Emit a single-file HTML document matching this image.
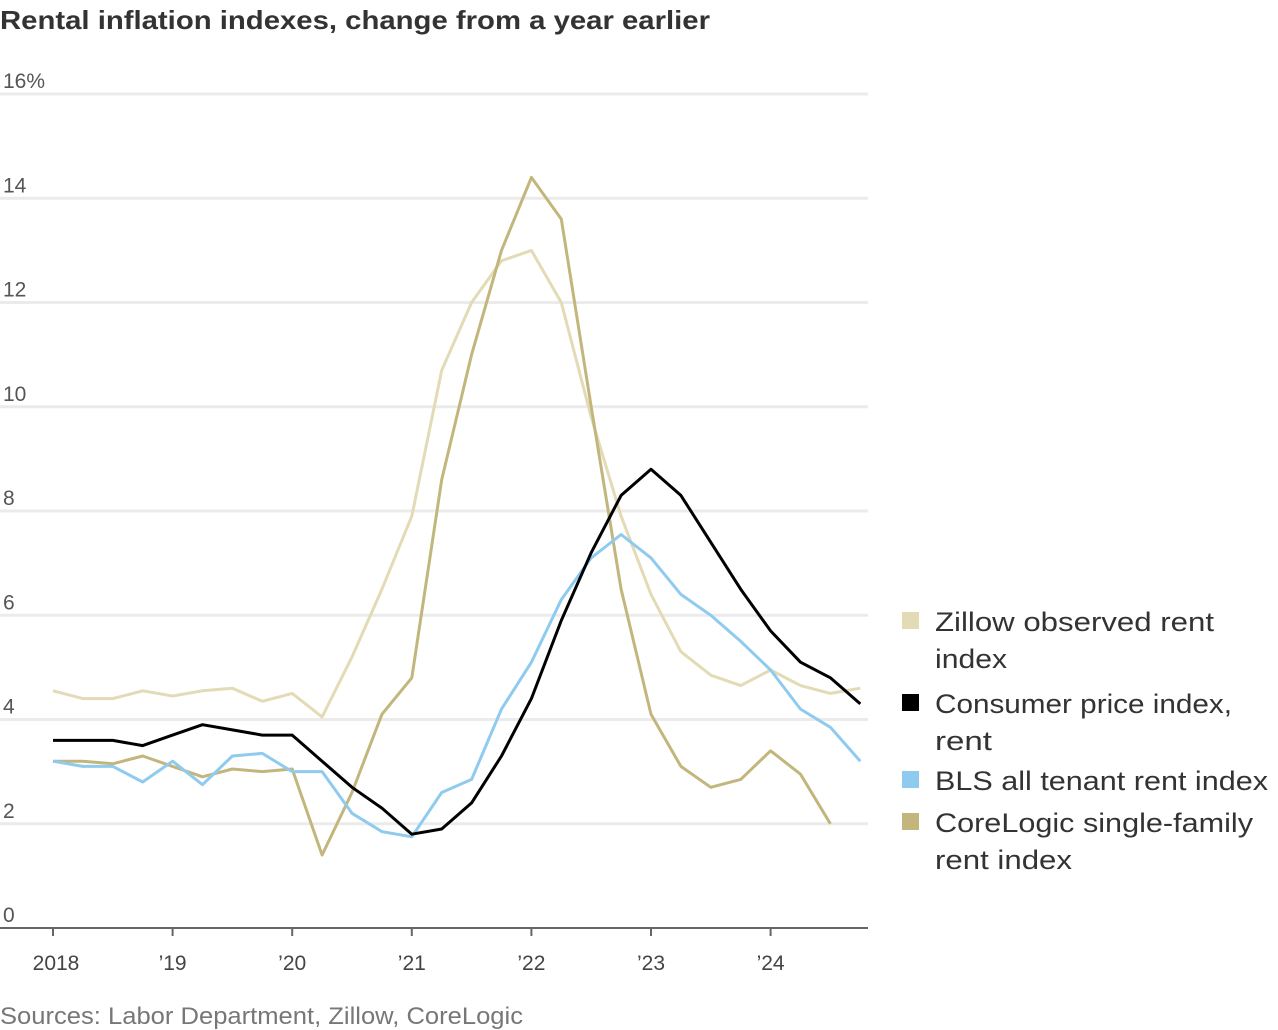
<!DOCTYPE html>
<html><head><meta charset="utf-8"><style>
body{margin:0;background:#fff;}
svg{display:block;font-family:"Liberation Sans",sans-serif;}
</style></head><body>
<svg width="1278" height="1030" id="chart">
<text x="0" y="29" font-size="26" font-weight="bold" fill="#333" textLength="710" lengthAdjust="spacingAndGlyphs">Rental inflation indexes, change from a year earlier</text>
<text x="0" y="1024" font-size="24" fill="#777" textLength="523" lengthAdjust="spacingAndGlyphs">Sources: Labor Department, Zillow, CoreLogic</text>
<g id="grid"></g><g id="series"></g><g id="legend"></g>
</svg>
<script>
const yTicks=[0,2,4,6,8,10,12,14,16];
const yTickLabels=["0","2","4","6","8","10","12","14","16%"];
const xTickYears=[2018,2019,2020,2021,2022,2023,2024];
const xTickLabels=["2018","\u201919","\u201920","\u201921","\u201922","\u201923","\u201924"];
const startYear=2018;
const zillow=[4.55,4.4,4.4,4.55,4.45,4.55,4.6,4.35,4.5,4.05,5.2,6.5,7.9,10.7,12.0,12.8,13.0,12.0,9.8,7.9,6.4,5.3,4.85,4.65,4.95,4.65,4.5,4.6];
const cpi=[3.6,3.6,3.6,3.5,3.7,3.9,3.8,3.7,3.7,3.2,2.7,2.3,1.8,1.9,2.4,3.3,4.4,5.9,7.2,8.3,8.8,8.3,7.4,6.5,5.7,5.1,4.8,4.3];
const bls=[3.2,3.1,3.1,2.8,3.2,2.75,3.3,3.35,3.0,3.0,2.2,1.85,1.75,2.6,2.85,4.2,5.1,6.3,7.1,7.55,7.1,6.4,6.0,5.5,4.95,4.2,3.85,3.2];
const corelogic=[3.2,3.2,3.15,3.3,3.1,2.9,3.05,3.0,3.05,1.4,2.6,4.1,4.8,8.6,11.0,13.0,14.4,13.6,10.0,6.5,4.1,3.1,2.7,2.85,3.4,2.95,2.0];
const seriesNames=["Zillow observed rent|index","Consumer price index,|rent","BLS all tenant rent index","CoreLogic single-family|rent index"];
const legendWidths=[[279,72],[297,57],[333],[318,137]];
const NS="http://www.w3.org/2000/svg";
const y=v=>928-v*52.125;
const x=t=>53+(t-startYear)*119.6;
function mk(tag,attrs,parent){const e=document.createElementNS(NS,tag);for(const k in attrs)e.setAttribute(k,attrs[k]);parent.appendChild(e);return e;}
const grid=document.getElementById('grid');
yTicks.forEach((v,i)=>{
 if(v>0){const l=mk('line',{x1:0,x2:868,y1:y(v),y2:y(v),stroke:'#ebebeb','stroke-width':3},grid);
 
 }
 const t=mk('text',{x:3,y:y(v)-6,'font-size':21,fill:'#555'},grid);t.textContent=yTickLabels[i];
 
 
});
const ax=mk('line',{x1:0,x2:868,y1:y(0),y2:y(0),stroke:'#666','stroke-width':2},grid);


xTickYears.forEach((yr,i)=>{
 const tk=mk('line',{x1:x(yr),x2:x(yr),y1:y(0),y2:y(0)+8,stroke:'#666','stroke-width':2},grid);
 
 
 const t=mk('text',{x:x(yr)+(i==0?3:0),y:970,'font-size':21,fill:'#444','text-anchor':'middle'},grid);t.textContent=xTickLabels[i];
 
 
});
const ser=document.getElementById('series');
function draw(data,color,name){
 const pts=data.map((v,i)=>x(startYear+i*0.25).toFixed(1)+','+y(v).toFixed(1)).join(' ');
 const p=mk('polyline',{points:pts,fill:'none',stroke:color,'stroke-width':3,'stroke-linejoin':'round'},ser);
 
 
}
const colors=['#e2dbb5','#000','#8fcbef','#c3b67c'];
draw(zillow,colors[0],'zillow-line');
draw(corelogic,colors[3],'corelogic-line');
draw(bls,colors[2],'bls-line');
draw(cpi,colors[1],'cpi-line');
const leg=document.getElementById('legend');
const legY=[621,703,780,822];
seriesNames.forEach((n,i)=>{
 const g=mk('g',{},leg);
 
 
 mk('rect',{x:902,y:legY[i]-9,width:17,height:17,fill:colors[i]},g);
 n.split('|').forEach((s,j)=>{const t=mk('text',{x:935,y:legY[i]+10+j*37,'font-size':27,fill:'#333',textLength:legendWidths[i][j],lengthAdjust:'spacingAndGlyphs'},g);t.textContent=s;});
});
</script>
</body></html>
